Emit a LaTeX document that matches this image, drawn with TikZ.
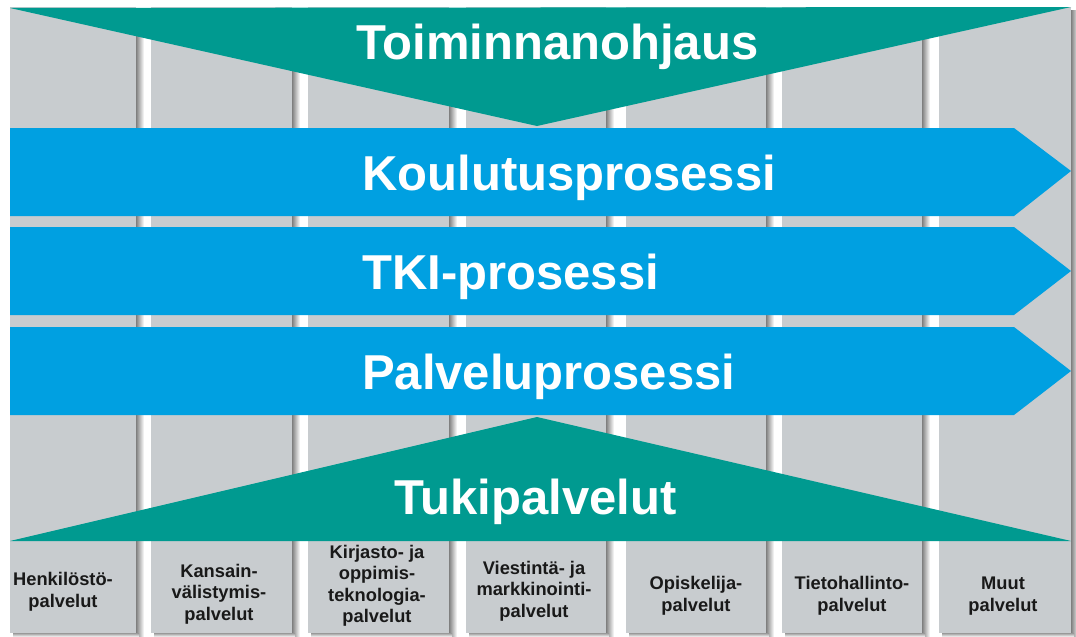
\documentclass[tikz,border=0pt]{standalone}
\usepackage{fontspec}
\setmainfont{Liberation Sans}
\definecolor{myteal}{RGB}{0,154,144}
\definecolor{myblue}{RGB}{0,160,225}
\definecolor{colgray}{RGB}{200,204,207}
\definecolor{labcol}{RGB}{25,25,25}
\begin{document}
\begin{tikzpicture}[x=1pt,y=-1pt,
  title/.style={text=white, font=\fontsize{49}{49}\selectfont\bfseries, anchor=base west, inner sep=0pt},
  lab/.style={text=labcol, font=\fontsize{18.3}{21.5}\selectfont\bfseries, align=center, inner sep=0pt},
  tealshape/.style={fill=myteal},
  arrowshape/.style={fill=myblue}]
\useasboundingbox (0,0) rectangle (1076,637);
\fill[white] (0,0) rectangle (1076,637);
% columns with shadows
\foreach \a/\b in {10/136, 151/292, 308/449, 466/606, 626/766, 782/922, 939/1071} {
  \shade[left color=black!50, right color=white] (\b,10) rectangle (\b+8,636);
  \shade[top color=black!40, bottom color=white] (\a+3,633) rectangle (\b+3,637);
  \fill[colgray] (\a,7) rectangle (\b,633);
}
% top triangle
\fill[tealshape] (10,8) -- (1071,7) -- (537,126) -- cycle;
% process arrows
\fill[arrowshape] (10,128) -- (1014,128) -- (1071,171) -- (1014,216) -- (10,216) -- cycle;
\fill[arrowshape] (10,227) -- (1014,227) -- (1071,271) -- (1014,315) -- (10,315) -- cycle;
\fill[arrowshape] (10,327) -- (1014,327) -- (1071,371) -- (1014,415) -- (10,415) -- cycle;
% bottom triangle
\fill[tealshape] (10,541) -- (537,417) -- (1071,541) -- cycle;
% titles
\node[title] (toim) at (356,59) {Toiminnanohjaus};
\node[title] (koul) at (362,190) {Koulutusprosessi};
\node[title] (tki) at (362,289) {TKI-prosessi};
\node[title] (palv) at (362,389) {Palveluprosessi};
\node[title] (tuki) at (394,514) {Tukipalvelut};
% service labels
\node[lab] (l1) at (63,592) {Henkilöstö-\\palvelut};
\node[lab] (l2) at (219,594) {Kansain-\\välistymis-\\palvelut};
\node[lab] (l3) at (377,586) {Kirjasto- ja\\oppimis-\\teknologia-\\palvelut};
\node[lab] (l4) at (534,591) {Viestintä- ja\\markkinointi-\\palvelut};
\node[lab] (l5) at (696,596) {Opiskelija-\\palvelut};
\node[lab] (l6) at (852,596) {Tietohallinto-\\palvelut};
\node[lab] (l7) at (1003,596) {Muut\\palvelut};
\end{tikzpicture}
\end{document}
